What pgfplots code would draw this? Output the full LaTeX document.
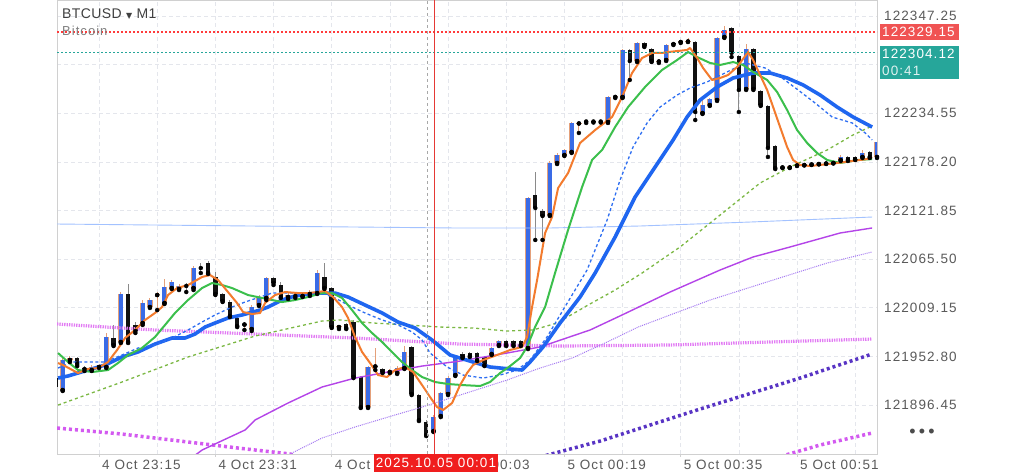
\documentclass[border=0pt]{standalone}
\usepackage{fontspec}
\setmainfont{Liberation Sans}
\newfontfamily\uifont[LetterSpace=8]{Liberation Sans}
\newfontfamily\titlefont[LetterSpace=3]{Liberation Sans}
\newfontfamily\dejavu{DejaVu Sans}
\usepackage{pgfplots}
\usepackage{pgfplotstable}
\pgfplotsset{compat=1.18}
\newcommand\ticksty{\uifont\fontsize{13.5bp}{16bp}\selectfont}
\definecolor{bullblue}{HTML}{3A6BE6}
\definecolor{wickbull}{HTML}{E4A07A}
\definecolor{bearblk}{HTML}{111111}
\definecolor{wickbear}{HTML}{8A8A8A}
\definecolor{orangeMA}{HTML}{F37B2E}
\definecolor{greenMA}{HTML}{3BBF4C}
\definecolor{blueMA}{HTML}{1F66F0}
\definecolor{bluedash}{HTML}{2D6EF2}
\definecolor{greendash}{HTML}{7BB843}
\definecolor{lightblue}{HTML}{A3C2FF}
\definecolor{purple1}{HTML}{B444E8}
\definecolor{purple2}{HTML}{A57AF2}
\definecolor{pink1}{HTML}{E27AF4}
\definecolor{magenta1}{HTML}{D35AF0}
\definecolor{indigo1}{HTML}{5834C4}
\definecolor{redline}{HTML}{FF3B3B}
\definecolor{redlabel}{HTML}{F05353}
\definecolor{redbox}{HTML}{F01E1E}
\definecolor{crossred}{HTML}{E53935}
\definecolor{crossgray}{HTML}{A8A8A8}
\definecolor{tealline}{HTML}{26A69A}
\definecolor{gridgray}{HTML}{E4E6EC}
\definecolor{framegray}{HTML}{D0D0D0}
\definecolor{ticktext}{HTML}{5A5A5A}

\pgfplotstableread{
m O H L C
10 121913.8 121950.9 121912.7 121948.6
11 121948.6 121953.2 121946.3 121950.9
14 121937.0 121942.8 121935.9 121940.5
15 121940.5 121944.0 121939.3 121941.6
16 121940.5 121979.9 121939.3 121975.3
18 121969.5 122027.4 121968.3 122025.1
21 121991.5 122018.1 121989.2 122014.7
22 122010.0 122020.5 122008.9 122018.1
23 122023.9 122027.4 122006.5 122025.1
24 122014.7 122042.5 122013.5 122033.2
25 122032.0 122041.3 122030.9 122039.0
26 122030.9 122036.7 122029.7 122034.4
28 122032.0 122057.5 122029.7 122055.2
35 121989.7 121992.6 121983.4 121990.3
36 121984.5 122012.3 121982.2 122010.0
37 122012.3 122023.9 122011.2 122021.6
38 122020.5 122044.8 122018.1 122043.6
41 122021.6 122026.2 122019.3 122023.9
43 122022.8 122027.4 122021.6 122025.1
44 122025.1 122029.7 122022.8 122026.2
45 122026.2 122052.9 122025.1 122049.4
48 121986.8 121989.2 121984.5 121987.4
52 121894.1 121941.6 121893.0 121940.5
53 121941.1 121962.5 121937.0 121941.6
55 121934.7 121938.2 121933.5 121935.9
56 121933.5 121941.6 121932.4 121939.3
57 121939.3 121964.8 121938.2 121957.9
61 121866.3 121884.9 121865.2 121882.5
62 121883.7 121911.5 121882.5 121910.4
63 121909.2 121930.1 121908.0 121927.7
64 121931.2 121954.4 121930.1 121952.1
69 121955.6 121963.7 121954.4 121962.5
70 121966.0 121971.8 121964.8 121970.6
74 121962.5 122137.5 121961.3 122136.3
77 122116.6 122179.2 122115.5 122176.9
78 122176.9 122188.5 122175.7 122186.2
79 122186.2 122193.1 122185.0 122192.0
80 122189.7 122224.4 122188.5 122223.3
81 122222.7 122224.4 122211.7 122223.3
85 122224.4 122254.5 122223.3 122253.4
86 122253.4 122255.7 122252.2 122254.0
87 122253.4 122309.0 122252.2 122307.9
89 122295.1 122317.1 122293.9 122316.0
92 122294.5 122296.3 122292.8 122295.1
93 122296.3 122314.8 122295.1 122313.6
95 122317.1 122318.3 122316.0 122317.7
96 122317.7 122321.8 122317.1 122318.3
98 122234.8 122255.0 122233.7 122244.1
99 122244.1 122252.2 122243.0 122251.1
100 122249.9 122322.9 122248.8 122321.8
101 122322.9 122335.7 122321.8 122331.0
104 122262.7 122314.8 122261.5 122309.0
109 122171.7 122173.4 122171.1 122172.3
110 122171.7 122174.6 122171.1 122174.0
111 122174.0 122175.7 122173.4 122174.6
112 122174.6 122176.3 122174.0 122175.2
113 122175.2 122176.9 122174.6 122175.7
114 122175.7 122177.5 122175.2 122176.3
115 122176.3 122178.1 122175.7 122176.9
116 122176.9 122179.2 122176.3 122177.5
117 122180.4 122186.2 122179.2 122183.9
120 122183.9 122192.0 122182.7 122188.5
122 122183.9 122202.4 122182.7 122201.2
}\bull

\pgfplotstableread{
m O H L C
9 121927.7 121930.1 121913.8 121917.3
12 121950.9 121952.1 121941.6 121944.0
13 121939.3 121941.6 121935.9 121938.2
17 121974.1 121989.2 121964.8 121966.0
19 122025.1 122036.7 121968.3 121969.5
20 121989.2 121992.6 121979.9 121982.2
27 122034.4 122037.8 122027.4 122033.2
29 122055.2 122061.0 122049.4 122054.6
30 122061.0 122063.3 122048.3 122049.4
31 122044.8 122050.6 122023.9 122025.1
32 122025.1 122026.2 122015.8 122017.0
33 122015.8 122018.1 121998.4 121999.6
34 121997.3 121999.6 121986.8 121988.0
39 122043.6 122044.8 122035.5 122037.8
40 122035.5 122039.0 122020.5 122021.6
42 122023.9 122026.2 122020.5 122022.8
46 122044.8 122061.0 122030.9 122032.0
47 122032.0 122033.2 121985.7 121986.8
49 121990.3 121991.5 121984.5 121985.7
50 121992.6 121995.0 121927.7 121928.9
51 121928.9 121930.1 121893.0 121894.1
54 121938.2 121939.3 121933.5 121934.7
58 121963.7 121964.8 121908.0 121909.2
59 121908.0 121909.2 121877.9 121879.1
60 121876.7 121879.1 121860.5 121861.7
65 121955.6 121957.9 121950.9 121952.1
66 121956.7 121957.9 121952.1 121953.2
67 121956.7 121957.9 121947.4 121948.6
68 121952.1 121953.2 121941.6 121942.8
71 121970.6 121971.8 121964.8 121966.0
72 121970.6 121971.8 121964.8 121966.0
73 121970.6 121971.8 121964.8 121966.0
75 122139.8 122166.5 122087.7 122124.8
76 122121.3 122123.6 122087.7 122115.5
82 122225.0 122225.6 122223.3 122224.4
83 122225.0 122225.6 122223.8 122224.4
84 122225.0 122225.6 122223.8 122224.4
88 122307.9 122309.0 122273.1 122295.1
90 122316.0 122317.1 122311.3 122312.5
91 122309.0 122310.2 122293.9 122295.1
94 122314.8 122316.0 122313.6 122314.2
97 122317.1 122318.3 122226.7 122236.0
102 122333.3 122334.5 122299.7 122304.4
103 122300.9 122302.1 122236.0 122261.5
105 122309.0 122310.2 122261.5 122262.7
106 122260.3 122261.5 122243.0 122244.1
107 122243.0 122244.1 122183.9 122194.3
108 122196.6 122197.8 122169.9 122171.1
118 122183.9 122185.0 122179.2 122180.4
119 122183.9 122185.0 122180.4 122181.0
121 122189.7 122190.8 122182.7 122183.9
}\bear

\begin{document}
\begin{tikzpicture}
\useasboundingbox (0,0) rectangle (1024bp,473bp);
\fill[white] (0,0) rectangle (1024bp,473bp);
\begin{axis}[
  at={(57bp,19bp)}, anchor=south west,
  scale only axis, width=820bp, height=454bp,
  xmin=9.22, xmax=122, ymin=121839.7, ymax=122365.8,
  scaled x ticks=false, scaled y ticks=false,
  axis line style={draw=framegray, line width=0.8bp},
  xtick={15,31,47,63,79,95,111},
  xticklabels={4 Oct 23:15,4 Oct 23:31,4 Oct 23:47,5 Oct 00:03,5 Oct 00:19,5 Oct 00:35,5 Oct 00:51},
  minor xtick={23,39,55,71,87,103,119},
  ytick={121896.45,121952.80,122009.15,122065.50,122121.85,122178.20,122234.55,122290.90,122347.25},
  yticklabels={121896.45,121952.80,122009.15,122065.50,122121.85,122178.20,122234.55,{},122347.25},
  yticklabel pos=right,
  grid=both,
  major grid style={draw=gridgray, dash pattern=on 4bp off 3bp, line width=0.6bp},
  minor grid style={draw=gridgray, dash pattern=on 4bp off 3bp, line width=0.6bp},
  tick align=outside,
  xtick style={draw=framegray, line width=0.8bp},
  ytick style={draw=none},
  major tick length=3bp, minor tick length=0pt,
  xticklabel style={anchor=west, inner sep=0pt, xshift=3bp, yshift=-8bp, font=\ticksty, text=ticktext},
  yticklabel style={anchor=west, inner sep=0pt, xshift=4bp, font=\ticksty, text=ticktext},
]
% candles: wicks
\addplot[only marks, mark=none, error bars/.cd, y dir=plus, y explicit, error mark=none,
  error bar style={draw=wickbull, line width=0.9bp, solid}]
  table[x=m, y=L, y error expr={\thisrow{H}-\thisrow{L}}] {\bull};
\addplot[only marks, mark=none, error bars/.cd, y dir=plus, y explicit, error mark=none,
  error bar style={draw=wickbear, line width=0.9bp, solid}]
  table[x=m, y=L, y error expr={\thisrow{H}-\thisrow{L}}] {\bear};
% bodies
\addplot[only marks, mark=none, error bars/.cd, y dir=plus, y explicit, error mark=none,
  error bar style={draw=wickbull, line width=5.2bp, solid}]
  table[x=m, y expr={min(\thisrow{O},\thisrow{C})}, y error expr={max(abs(\thisrow{C}-\thisrow{O}),0.9)}] {\bull};
\addplot[only marks, mark=none, error bars/.cd, y dir=plus, y explicit, error mark=none,
  error bar style={draw=bullblue, line width=4.0bp, solid}]
  table[x=m, y expr={min(\thisrow{O},\thisrow{C})}, y error expr={max(abs(\thisrow{C}-\thisrow{O}),0.9)}] {\bull};
\addplot[only marks, mark=none, error bars/.cd, y dir=plus, y explicit, error mark=none,
  error bar style={draw=bearblk, line width=4.4bp, solid}]
  table[x=m, y expr={min(\thisrow{O},\thisrow{C})}, y error expr={max(abs(\thisrow{C}-\thisrow{O}),0.9)}] {\bear};

% long MAs
\addplot[draw=lightblue, line width=0.9bp] coordinates {(9.22,122106.2) (35.77,122103.9) (63.97,122101.6) (77.04,122101.6) (89.42,122103.9) (104.55,122108.5) (121.33,122114.3)};
\addplot[draw=pink1, line width=3.2bp, dash pattern=on 1.3bp off 1.1bp] coordinates {(9.22,121990.3) (22.70,121983.4) (36.46,121978.7) (50.21,121974.1) (64.66,121967.1) (78.41,121964.8) (93.54,121966.0) (107.30,121969.5) (121.33,121972.9)};
\addplot[draw=magenta1, line width=3.5bp, dash pattern=on 3bp off 3bp] coordinates {(9.22,121869.8) (18.16,121862.8) (27.24,121853.6) (34.12,121846.6) (41.27,121839.7) (42.65,121835.0)};
\addplot[draw=magenta1, line width=3.5bp, dash pattern=on 3bp off 3bp] coordinates {(107.99,121835.0) (114.17,121850.1) (121.33,121864.0)};
\addplot[draw=indigo1, line width=3.5bp, dash pattern=on 3bp off 3bp] coordinates {(75.66,121836.2) (83.92,121854.7) (97.67,121891.8) (111.42,121927.7) (121.33,121955.6)};
\addplot[draw=purple2, line width=1bp, dash pattern=on 1bp off 1bp] coordinates {(40.58,121835.0) (41.27,121839.7) (45.67,121858.2) (50.21,121871.0) (54.75,121882.5) (59.43,121894.1) (64.66,121908.0) (71.12,121925.4) (75.66,121939.3) (80.06,121950.9) (84.60,121968.3) (89.14,121986.8) (93.54,122000.8) (99.04,122018.1) (107.71,122041.3) (115.14,122061.0) (121.33,122073.8)};
\addplot[draw=purple1, line width=1.4bp] coordinates {(27.52,121833.9) (29.17,121844.3) (35.08,121867.5) (36.46,121879.1) (41.00,121898.8) (45.67,121917.3) (50.21,121927.7) (54.75,121934.7) (59.43,121941.6) (64.66,121947.4) (71.12,121956.7) (75.66,121963.7) (82.54,121983.4) (86.94,122000.8) (93.54,122027.4) (100.42,122052.9) (104.96,122068.0) (110.05,122079.6) (116.93,122095.8) (121.33,122101.6)};
\addplot[draw=greendash, line width=1.3bp, dash pattern=on 3bp off 3bp] coordinates {(9.36,121896.4) (18.16,121923.1) (27.24,121952.1) (36.46,121976.4) (45.67,121993.8) (48.15,121995.0) (52.69,121991.5) (57.37,121989.2) (61.91,121986.8) (66.44,121985.7) (71.12,121982.2) (74.70,121983.4) (78.00,121991.5) (82.26,122012.3) (85.98,122029.7) (89.69,122049.4) (94.92,122079.6) (100.42,122116.6) (105.92,122153.7) (110.05,122172.3) (115.14,122192.0) (118.71,122209.4) (121.33,122219.8)};

% short MAs
\addplot[draw=blueMA, line width=3.6bp, line join=round] coordinates {(9.36,121927.7) (10.74,121930.1) (13.49,121937.0) (15.83,121942.8) (18.16,121952.1) (20.36,121957.9) (22.70,121967.1) (25.04,121974.1) (26.83,121974.1) (28.20,121978.7) (29.58,121986.8) (30.96,121991.5) (32.74,121997.3) (34.67,122000.8) (37.15,122006.5) (38.25,122010.0) (40.17,122018.1) (41.96,122022.8) (43.75,122025.1) (45.67,122026.2) (47.46,122026.2) (49.25,122021.6) (51.59,122012.3) (53.93,122003.1) (56.13,121992.6) (58.47,121985.7) (60.80,121971.8) (63.28,121954.4) (66.44,121946.3) (68.78,121940.5) (71.53,121938.2) (73.18,121937.0) (74.28,121946.3) (76.07,121963.7) (78.41,121991.5) (81.16,122021.6) (83.23,122049.4) (85.98,122091.1) (88.73,122137.5) (91.48,122172.3) (93.96,122203.6) (95.88,122230.2) (97.67,122249.9) (100.01,122265.0) (102.21,122275.4) (104.96,122281.2) (107.30,122281.2) (109.64,122275.4) (111.84,122267.3) (114.17,122255.7) (116.51,122241.8) (118.71,122230.2) (121.33,122218.6)};
\addplot[draw=bluedash, line width=1.3bp, dash pattern=on 3bp off 2.5bp] coordinates {(9.36,121939.3) (11.29,121946.3) (13.49,121946.3) (15.83,121946.3) (18.16,121954.4) (20.36,121962.5) (22.70,121966.0) (25.04,121974.1) (27.24,121983.4) (29.17,121992.6) (30.96,122000.8) (33.29,122010.0) (35.08,122015.8) (37.15,122021.6) (38.80,122026.2) (41.00,122026.2) (43.34,122026.2) (45.67,122026.2) (47.46,122020.5) (49.25,122012.3) (51.59,122003.1) (53.93,121995.0) (56.13,121989.2) (58.05,121981.1) (59.43,121971.8) (60.53,121956.7) (62.87,121940.5) (65.07,121931.2) (67.82,121927.7) (70.16,121931.2) (72.50,121937.0) (74.29,121948.6) (76.62,121975.3) (78.82,122006.5) (82.12,122052.9) (84.88,122110.8) (86.66,122157.2) (88.45,122195.4) (90.38,122223.3) (92.17,122241.8) (94.51,122255.7) (96.29,122263.8) (98.63,122270.8) (101.38,122282.4) (103.86,122292.8) (106.61,122287.0) (108.95,122275.4) (111.15,122261.5) (113.49,122246.4) (115.83,122230.2) (118.58,122223.3) (120.37,122211.7) (121.33,122203.6)};
\addplot[draw=greenMA, line width=2bp, line join=round] coordinates {(9.36,121956.7) (10.74,121946.3) (12.11,121937.0) (14.04,121934.7) (16.24,121937.0) (17.61,121945.1) (18.99,121954.4) (20.91,121962.5) (22.70,121975.3) (24.08,121989.2) (25.45,122003.1) (27.24,122018.1) (29.17,122032.0) (30.54,122037.8) (31.92,122035.5) (33.29,122032.0) (35.50,122023.9) (37.42,122020.5) (40.17,122015.8) (41.96,122018.1) (43.75,122021.6) (45.67,122026.2) (47.05,122026.2) (48.42,122020.5) (49.80,122006.5) (51.18,121991.5) (52.55,121979.9) (53.93,121969.5) (55.30,121957.9) (56.68,121946.3) (58.05,121937.0) (59.43,121928.9) (61.22,121923.1) (63.01,121920.8) (64.93,121919.6) (67.41,121918.5) (68.78,121923.1) (70.16,121933.5) (71.53,121941.6) (72.91,121950.9) (73.87,121963.7) (74.97,121986.8) (76.35,122010.0) (77.72,122049.4) (79.51,122099.3) (81.44,122149.1) (82.81,122180.4) (84.19,122192.0) (85.98,122218.6) (87.77,122241.8) (90.10,122265.0) (92.44,122284.7) (94.51,122296.3) (96.02,122305.5) (97.26,122299.7) (99.04,122292.8) (100.42,122290.5) (102.21,122293.9) (103.58,122290.5) (104.96,122282.4) (106.89,122273.1) (108.26,122259.2) (109.64,122238.3) (111.01,122215.1) (112.39,122200.1) (113.76,122188.5) (115.14,122180.4) (116.93,122176.9) (119.40,122180.4) (121.33,122181.5)};
\addplot[draw=orangeMA, line width=2bp, line join=round] coordinates {(9.36,121945.1) (10.05,121942.8) (12.11,121933.5) (13.49,121938.2) (14.86,121939.3) (16.24,121946.3) (17.48,121960.2) (18.58,121974.1) (19.95,121983.4) (21.33,121995.0) (22.70,122003.1) (23.67,122010.0) (24.49,122023.9) (25.73,122032.0) (27.24,122035.5) (29.17,122044.8) (30.27,122047.1) (31.37,122041.3) (32.74,122027.4) (33.98,122014.7) (34.81,122004.2) (36.05,122001.9) (37.15,122003.1) (37.83,122014.7) (39.21,122023.9) (40.59,122027.4) (42.37,122026.2) (43.75,122026.2) (45.12,122027.4) (46.09,122028.6) (47.19,122021.6) (48.42,122010.0) (49.25,121997.3) (50.21,121975.3) (51.18,121957.9) (52.28,121945.1) (53.38,121931.2) (54.61,121928.9) (55.71,121937.0) (57.09,121940.5) (58.19,121934.7) (59.43,121919.6) (60.53,121905.7) (61.49,121894.1) (62.32,121890.7) (63.56,121898.8) (64.66,121919.6) (65.62,121933.5) (66.44,121942.8) (67.82,121948.6) (69.75,121954.4) (71.53,121960.2) (73.18,121963.7) (73.87,121975.3) (74.56,122010.0) (75.25,122041.3) (76.35,122095.8) (77.31,122114.3) (78.14,122147.9) (79.51,122165.3) (81.16,122200.1) (83.23,122215.1) (85.56,122230.2) (86.94,122253.4) (88.31,122281.2) (89.69,122298.6) (91.07,122304.4) (92.44,122304.4) (93.27,122305.5) (95.88,122307.9) (96.29,122310.2) (97.26,122298.6) (98.08,122287.0) (99.32,122273.1) (100.42,122275.4) (101.52,122278.9) (102.76,122288.2) (104.27,122305.5) (104.96,122296.3) (105.92,122278.9) (106.89,122261.5) (107.71,122241.8) (108.67,122218.6) (109.64,122195.4) (110.46,122180.4) (111.42,122174.6) (112.80,122173.4) (116.51,122176.9) (120.64,122181.5) (121.33,122183.9)};
\end{axis}

% price lines and crosshair, in picture coordinates (1bp = 1px)
\draw[draw=redline, line width=1.1bp, dash pattern=on 2.2bp off 1.8bp] (57bp,441bp) -- (877bp,441bp);
\draw[draw=tealline, line width=1bp, dash pattern=on 2bp off 2bp] (57bp,420bp) -- (877bp,420bp);
\draw[draw=crossgray, line width=0.8bp, dash pattern=on 3bp off 3bp] (427bp,19bp) -- (427bp,473bp);
\draw[draw=crossred, line width=1bp] (434bp,19bp) -- (434bp,473bp);

% labels outside the plot
\fill[redlabel] (880bp,433bp) rectangle (959bp,449bp);
\node[anchor=west, text=white, inner sep=0pt] at (882bp,441bp) {\ticksty 122329.15};
\fill[tealline] (880bp,394bp) rectangle (959bp,427bp);
\node[anchor=west, text=white, inner sep=0pt] at (882bp,419bp) {\ticksty 122304.12};
\node[anchor=west, text=white!85!tealline, inner sep=0pt] at (882bp,402bp) {\ticksty 00:41};
\node[fill=redbox, text=white, inner xsep=2bp, inner ysep=0pt, minimum height=18bp] at (436bp,10bp) {\ticksty 2025.10.05 00:01};
\node[anchor=west, inner sep=0pt, text=black!75] at (62bp,459bp) {\titlefont\fontsize{14bp}{16bp}\selectfont BTCUSD {\dejavu\fontsize{8bp}{10bp}\selectfont ▼} M1};
\node[anchor=west, inner sep=0pt, text=black!50] at (62bp,442bp) {\uifont\fontsize{13bp}{15bp}\selectfont Bitcoin};
\node[text=black!70, inner sep=0pt] at (922bp,40bp) {\fontsize{18bp}{18bp}\selectfont •\hspace{3.2bp}•\hspace{3.2bp}•};
\end{tikzpicture}
\end{document}
